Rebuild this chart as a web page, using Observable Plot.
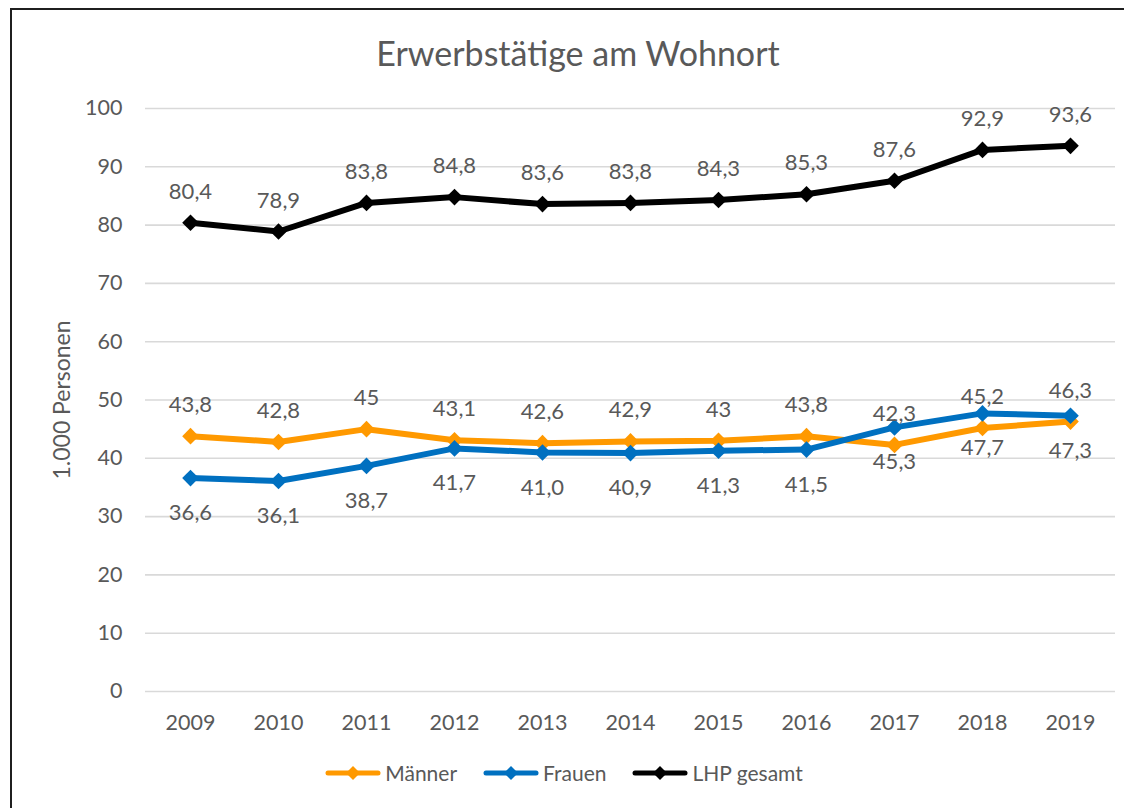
<!DOCTYPE html>
<html>
<head>
<meta charset="utf-8">
<script src="https://cdn.jsdelivr.net/npm/d3@7"></script>
<script src="https://cdn.jsdelivr.net/npm/@observablehq/plot@0.6"></script>
<style>
  html, body { margin: 0; padding: 0; background: #fff; overflow: hidden; width: 1124px; height: 808px; }
  body { font-family: Lato, "Open Sans", sans-serif; color: #595959; position: relative; }
  #frame { position: absolute; left: 10px; top: 8px; width: 1140px; height: 840px; border: 2px solid #1f1f1f; box-sizing: border-box; }
  #title { position: absolute; left: 0; top: 32px; width: 1156px; text-align: center; font-size: 34px; color: #595959; }
  #chart { position: absolute; left: 0; top: 80px; }
  #legend { position: absolute; left: 0; top: 760px; width: 1128px; display: flex; justify-content: center; gap: 26px; font-size: 21px; color: #595959; }
  .item { display: flex; align-items: center; gap: 4px; }
</style>
</head>
<body>
<div id="frame"></div>
<div id="title">Erwerbstätige am Wohnort</div>
<div id="chart"></div>
<div id="legend"></div>
<script>
const years = ["2009","2010","2011","2012","2013","2014","2015","2016","2017","2018","2019"];
const maenner = [43.8, 42.8, 45, 43.1, 42.6, 42.9, 43, 43.8, 42.3, 45.2, 46.3];
const frauen  = [36.6, 36.1, 38.7, 41.7, 41.0, 40.9, 41.3, 41.5, 45.3, 47.7, 47.3];
const gesamt  = [80.4, 78.9, 83.8, 84.8, 83.6, 83.8, 84.3, 85.3, 87.6, 92.9, 93.6];
const yTicks = [0, 10, 20, 30, 40, 50, 60, 70, 80, 90, 100];

const seriesNames = ["Männer", "Frauen", "LHP gesamt"];
const seriesColors = ["#FF9900", "#0070C0", "#000000"];

const fmtGeneral = v => String(v).replace(".", ",");
const fmtFixed = v => v.toFixed(1).replace(".", ",");

const series = [
  {name: "Männer", values: maenner, color: seriesColors[0], dy: -31, fmt: fmtGeneral},
  {name: "Frauen", values: frauen, color: seriesColors[1], dy: 35, fmt: fmtFixed},
  {name: "LHP gesamt", values: gesamt, color: seriesColors[2], dy: -31, fmt: fmtFixed}
];

const rows = series.flatMap(s => years.map((y, i) => ({year: y, value: s.values[i], series: s.name, label: s.fmt(s.values[i])})));

const marks = [
  Plot.ruleY(yTicks, {stroke: "#d9d9d9", strokeWidth: 1.6})
];
for (const s of series) {
  const data = rows.filter(r => r.series === s.name);
  marks.push(Plot.line(data, {x: "year", y: "value", stroke: s.color, strokeWidth: 6, strokeLinejoin: "round", strokeLinecap: "round"}));
}
for (const s of series) {
  const data = rows.filter(r => r.series === s.name);
  marks.push(Plot.dot(data, {x: "year", y: "value", fill: s.color, symbol: "diamond2", r: 7.5, stroke: "none"}));
}
for (const s of series) {
  const data = rows.filter(r => r.series === s.name);
  marks.push(Plot.text(data, {x: "year", y: "value", text: "label", dy: s.dy, fill: "#595959", fontSize: 22}));
}

const chart = Plot.plot({
  width: 1124,
  height: 660,
  marginTop: 28,
  marginBottom: 49,
  marginLeft: 145,
  marginRight: 9,
  style: {fontFamily: "Lato, 'Open Sans', sans-serif", color: "#595959", background: "transparent", overflow: "visible"},
  x: {type: "point", domain: years, padding: 0.5, label: null},
  y: {domain: [0, 100], ticks: yTicks},
  marks: [
    ...marks,
    Plot.axisX({tickSize: 0, tickPadding: 23, fontSize: 21.5, label: null, fill: "#595959"}),
    Plot.axisY({ticks: yTicks, tickSize: 0, tickPadding: 23, fontSize: 21.5, fill: "#595959", label: null}),
    Plot.axisY({ticks: [], tickSize: 0, fontSize: 23, fill: "#595959",
      label: "1.000 Personen", labelAnchor: "center", labelArrow: "none", labelOffset: 92})
  ]
});
document.getElementById("chart").appendChild(chart);

const legend = document.getElementById("legend");
seriesNames.forEach((n, i) => {
  const item = document.createElement("div");
  item.className = "item";
  const c = seriesColors[i];
  item.innerHTML = `<svg width="56" height="16" viewBox="0 0 56 16"><line x1="3" y1="8" x2="53" y2="8" stroke="${c}" stroke-width="5" stroke-linecap="round"/><path d="M28 1 L35 8 L28 15 L21 8 Z" fill="${c}"/></svg><span>${n}</span>`;
  legend.appendChild(item);
});
</script>
</body>
</html>
